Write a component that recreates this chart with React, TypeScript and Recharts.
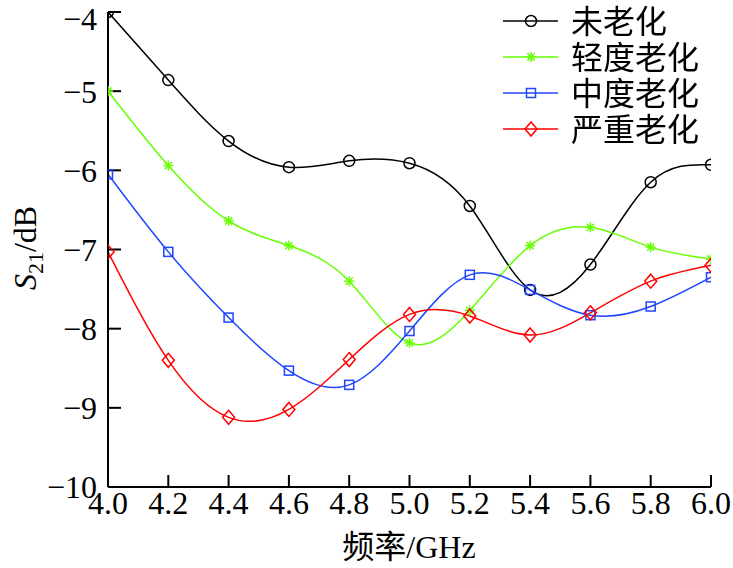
import { LineChart, Line, XAxis, YAxis, Label } from "recharts";

const freq = [4.0, 4.2, 4.4, 4.6, 4.8, 5.0, 5.2, 5.4, 5.6, 5.8, 6.0];
const unaged = [-4.0, -4.86, -5.63, -5.96, -5.88, -5.91, -6.45, -7.51, -7.19, -6.15, -5.93];
const light = [-5.0, -5.94, -6.64, -6.95, -7.4, -8.18, -7.77, -6.95, -6.72, -6.97, -7.12];
const medium = [-6.05, -7.03, -7.86, -8.53, -8.71, -8.03, -7.32, -7.51, -7.83, -7.72, -7.35];
const severe = [-7.03, -8.4, -9.12, -9.02, -8.39, -7.82, -7.84, -8.08, -7.8, -7.4, -7.2];

const xTicks = [4.0, 4.2, 4.4, 4.6, 4.8, 5.0, 5.2, 5.4, 5.6, 5.8, 6.0];
const yTicks = [-10, -9, -8, -7, -6, -5, -4];

const data = freq.map((f, i) => ({
  f,
  unaged: unaged[i],
  light: light[i],
  medium: medium[i],
  severe: severe[i],
}));

const series = [
  { key: "unaged", name: "未老化", color: "#000000", marker: "circle" },
  { key: "light", name: "轻度老化", color: "#66ff00", marker: "star" },
  { key: "medium", name: "中度老化", color: "#1f45ff", marker: "square" },
  { key: "severe", name: "严重老化", color: "#ff0000", marker: "diamond" },
];

const serif = "'Liberation Serif', 'Times New Roman', serif";
const cjk = "'Noto Sans CJK SC', sans-serif";

function Marker({ type, x, y, color }: { type: string; x: number; y: number; color: string }) {
  if (type === "circle")
    return <circle cx={x} cy={y} r={5.5} fill="none" stroke={color} strokeWidth={1.5} />;
  if (type === "square")
    return <rect x={x - 4.5} y={y - 4.5} width={9} height={9} fill="none" stroke={color} strokeWidth={1.5} />;
  if (type === "diamond")
    return (
      <path
        d={`M${x},${y - 7} L${x + 6},${y} L${x},${y + 7} L${x - 6},${y} Z`}
        fill="none"
        stroke={color}
        strokeWidth={1.5}
      />
    );
  const r = 5;
  const d = r * 0.72;
  return (
    <g stroke={color} strokeWidth={1.5}>
      <line x1={x - r} y1={y} x2={x + r} y2={y} />
      <line x1={x} y1={y - r} x2={x} y2={y + r} />
      <line x1={x - d} y1={y - d} x2={x + d} y2={y + d} />
      <line x1={x - d} y1={y + d} x2={x + d} y2={y - d} />
    </g>
  );
}

const fmtY = (v: number) => (v < 0 ? "\u2212" + Math.abs(v) : String(v));

function LegendBox() {
  return (
    <svg width={233} height={150} style={{ position: "absolute", left: 500, top: 0, overflow: "visible" }}>
      {series.map((s, i) => {
        const y = 21 + i * 36;
        return (
          <g key={s.key}>
            <line x1={3} y1={y} x2={58} y2={y} stroke={s.color} strokeWidth={1.5} />
            <Marker type={s.marker} x={31} y={y} color={s.color} />
            <text x={71} y={y} dy="0.36em" fontFamily={cjk} fontSize={32} fill="#000">
              {s.name}
            </text>
          </g>
        );
      })}
    </svg>
  );
}

export default function App() {
  return (
    <div style={{ position: "fixed", left: 0, top: 0, width: 733, height: 568, background: "#fff" }}>
      <LineChart width={733} height={568} data={data} margin={{ top: 12, right: 22, left: 0, bottom: 0 }}>
        <XAxis
          dataKey="f"
          type="number"
          domain={[4, 6]}
          ticks={xTicks}
          tickFormatter={(v: number) => v.toFixed(1)}
          height={81}
          stroke="#000"
          strokeWidth={2}
          tickSize={-12}
          tickMargin={16}
          tick={{ fill: "#000", fontFamily: serif, fontSize: 32 }}
          allowDataOverflow
        >
          <Label
            content={() => (
              <text x={409} y={546} textAnchor="middle" dy="0.36em" fontSize={32} fill="#000">
                <tspan fontFamily={cjk}>频率</tspan>
                <tspan fontFamily={serif}>/GHz</tspan>
              </text>
            )}
          />
        </XAxis>
        <YAxis
          type="number"
          domain={[-10, -4]}
          ticks={yTicks}
          tickFormatter={fmtY}
          width={108}
          stroke="#000"
          strokeWidth={2}
          tickSize={-13}
          tickMargin={24}
          tick={{ fill: "#000", fontFamily: serif, fontSize: 32 }}
          allowDataOverflow
        >
          <Label
            content={() => (
              <text
                transform="translate(24,248) rotate(-90)"
                textAnchor="middle"
                dy="0.36em"
                fontFamily={serif}
                fontSize={32}
                fill="#000"
              >
                <tspan fontStyle="italic">S</tspan>
                <tspan fontSize={22} dy="7">21</tspan>
                <tspan dy="-7">/dB</tspan>
              </text>
            )}
          />
        </YAxis>
        {series.map((s) => (
          <Line
            key={s.key}
            dataKey={s.key}
            name={s.name}
            type="natural"
            stroke={s.color}
            strokeWidth={1.5}
            isAnimationActive={false}
            dot={(p: any) => <Marker key={p.index} type={s.marker} x={p.cx} y={p.cy} color={s.color} />}
            activeDot={false}
          />
        ))}
      </LineChart>
      <LegendBox />
    </div>
  );
}
